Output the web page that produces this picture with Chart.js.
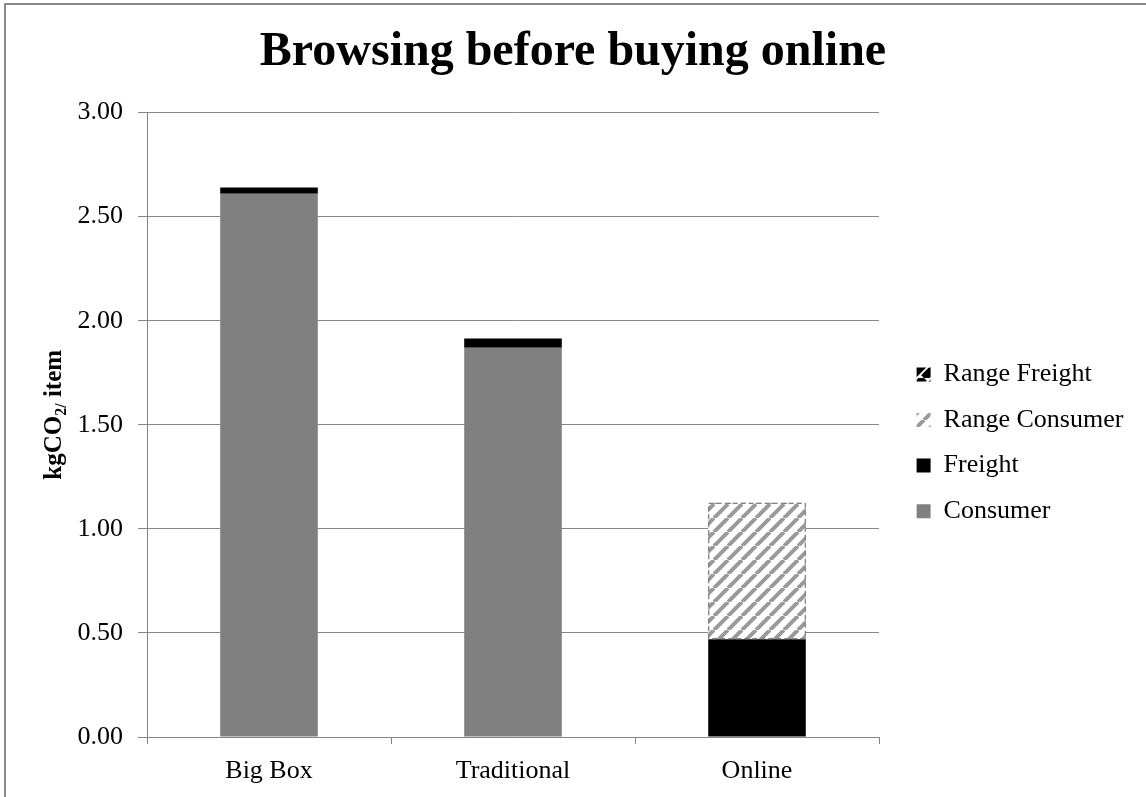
<!DOCTYPE html>
<html>
<head>
<meta charset="utf-8">
<title>Browsing before buying online</title>
<script src="https://cdn.jsdelivr.net/npm/chart.js@4.4.1/dist/chart.umd.min.js"></script>
<style>
    html, body { margin: 0; padding: 0; background: #fff; overflow: hidden; }
    #frame { position: absolute; left: 4px; top: 3px; width: 1300px; height: 1000px; border: 2px solid #898989; }
    #chart { position: absolute; left: 0; top: 0; }
</style>
</head>
<body>
<div id="frame"></div>
<canvas id="chart" width="1146" height="797"></canvas>
<script>
// values (kgCO2 per item)
const categories = ['Big Box', 'Traditional', 'Online'];
const consumer = [2.61, 1.87, 0];
const freight = [0.03, 0.045, 0.47];
const rangeConsumer = [0, 0, 0.655];
const rangeFreight = [0, 0, 0];
const yTicks = [0, 0.5, 1, 1.5, 2, 2.5, 3];

const FONT = '"Liberation Serif", "Times New Roman", serif';
const GRID = '#878787';

// diagonal "/" hatch used by the range series
function makeStripes(color, lineWidth, size) {
    const c = document.createElement('canvas');
    c.width = size;
    c.height = size;
    const g = c.getContext('2d');
    g.fillStyle = '#fff';
    g.fillRect(0, 0, size, size);
    g.strokeStyle = color;
    g.lineWidth = lineWidth;
    g.beginPath();
    for (let k = -1; k <= 1; k++) {
        g.moveTo(k * size, size);
        g.lineTo(k * size + size, 0);
    }
    g.stroke();
    return g.createPattern(c, 'repeat');
}

const consumerHatch = makeStripes('#9a9a9a', 4, 14);
const freightHatch = makeStripes('#000', 8, 14);

// dashed outline around the range consumer bar
const dashedRange = {
    id: 'dashedRange',
    afterDatasetsDraw: function(chart) {
        const meta = chart.getDatasetMeta(2);
        const ctx = chart.ctx;
        ctx.save();
        ctx.strokeStyle = '#808080';
        ctx.lineWidth = 1.3;
        ctx.setLineDash([5, 3]);
        meta.data.forEach((bar, i) => {
            if (!rangeConsumer[i]) return;
            const p = bar.getProps(['x', 'y', 'base', 'width'], true);
            ctx.strokeRect(p.x - p.width / 2 + 0.5, p.y + 0.5, p.width - 1, p.base - p.y - 1);
        });
        ctx.restore();
    }
};

// y axis title with the subscript "2/"
const yTitle = {
    id: 'yTitle',
    afterDraw: function(chart) {
        const ctx = chart.ctx;
        const area = chart.chartArea;
        const big = 'bold 25px ' + FONT;
        const small = 'bold 16px ' + FONT;
        ctx.save();
        ctx.font = big;
        const w1 = ctx.measureText('kgCO').width;
        const w3 = ctx.measureText(' item').width;
        ctx.font = small;
        const w2 = ctx.measureText('2/').width;
        const total = w1 + w2 + w3;
        ctx.translate(53, (area.top + area.bottom) / 2 - 10);
        ctx.rotate(-Math.PI / 2);
        ctx.fillStyle = '#000';
        ctx.textBaseline = 'alphabetic';
        ctx.textAlign = 'left';
        let x = -total / 2;
        ctx.font = big;
        ctx.fillText('kgCO', x, 8);
        x += w1;
        ctx.font = small;
        ctx.fillText('2/', x, 13);
        x += w2;
        ctx.font = big;
        ctx.fillText(' item', x, 8);
        ctx.restore();
    }
};

// keep a gap between plot and legend, like the original
const legendPlace = {
    id: 'legendPlace',
    beforeInit: function(chart) {
        const legend = chart.legend;
        const fit = legend.fit;
        legend.fit = function() {
            fit.call(this);
            this.width = 267;
        };
    },
    afterLayout: function(chart) {
        const legend = chart.legend;
        const dx = 897 - legend.left;
        legend.left += dx;
        legend.right += dx;
        legend.top += 18;
        legend.bottom += 18;
    }
};

new Chart(document.getElementById('chart'), {
    type: 'bar',
    data: {
        labels: categories,
        datasets: [
            { label: 'Consumer', data: consumer, backgroundColor: '#808080', borderWidth: 0 },
            { label: 'Freight', data: freight, backgroundColor: '#000000', borderWidth: 0 },
            { label: 'Range Consumer', data: rangeConsumer, backgroundColor: consumerHatch, borderWidth: 0 },
            { label: 'Range Freight', data: rangeFreight, backgroundColor: freightHatch, borderWidth: 0 }
        ]
    },
    options: {
        responsive: false,
        animation: false,
        layout: { padding: 0 },
        datasets: {
            bar: { categoryPercentage: 1, barPercentage: 0.4 }
        },
        plugins: {
            title: {
                display: true,
                text: 'Browsing before buying online',
                color: '#000',
                font: { family: FONT, size: 48, weight: 'bold', lineHeight: 1.2 },
                padding: { top: 24, bottom: 31 }
            },
            legend: {
                position: 'right',
                fullSize: false,
                reverse: true,
                labels: {
                    boxWidth: 14,
                    boxHeight: 14,
                    padding: 19.6,
                    color: '#000',
                    font: { family: FONT, size: 26 }
                }
            },
            tooltip: { enabled: false }
        },
        scales: {
            x: {
                stacked: true,
                grid: { offset: true, drawOnChartArea: false, color: GRID, tickLength: 7 },
                border: { color: GRID },
                ticks: { color: '#000', font: { family: FONT, size: 26 }, padding: 12, maxRotation: 0 },
                afterFit: function(scale) { scale.height = 60; }
            },
            y: {
                stacked: true,
                min: yTicks[0],
                max: yTicks[yTicks.length - 1],
                grid: { color: GRID, tickLength: 9 },
                border: { color: GRID },
                ticks: {
                    stepSize: yTicks[1] - yTicks[0],
                    callback: v => v.toFixed(2),
                    padding: 15,
                    color: '#000',
                    font: { family: FONT, size: 26 }
                },
                afterFit: function(scale) { scale.width = 147; }
            }
        }
    },
    plugins: [dashedRange, yTitle, legendPlace]
});
</script>
</body>
</html>
